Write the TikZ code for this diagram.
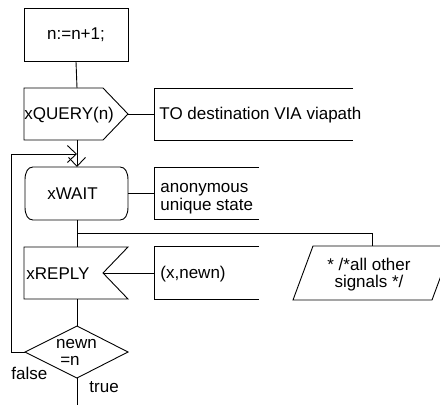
\documentclass[tikz,border=0pt]{standalone}
\usepackage{fontspec}
\setmainfont{Liberation Sans}
\usetikzlibrary{arrows.meta}
\begin{document}
\begin{tikzpicture}[x=1pt,y=-1pt,line width=0.9pt,
  lbl/.style={inner sep=0pt,font=\fontsize{17}{18}\selectfont},
  taskbox/.style={draw,line width=0.9pt,minimum width=104pt,minimum height=53pt,inner sep=0pt,font=\fontsize{17}{18}\selectfont},
  shp/.style={draw=black,line width=0.9pt},
  arr/.style={-{Straight Barb[length=9pt,width=17pt]}}]
\useasboundingbox (0,0) rectangle (440,405);

% task
\node[taskbox] (task) at (76,34.5) {n:=n+1;};

% output signal
\draw[shp] (24,88) -- (103,88) -- (128,114) -- (103,140) -- (24,140) -- cycle;
\coordinate (qtop) at (77,88);
\coordinate (qbot) at (77,140);
\coordinate (qout) at (128,114);
\node[lbl,anchor=base west] (qtxt) at (24,119.5) {xQUERY(n)};

% comment 1
\draw[shp] (353,88) -- (154,88) -- (154,140) -- (353,140);
\coordinate (c1in) at (154,114);
\node[lbl,anchor=base west] (c1txt) at (159,119.5) {TO destination VIA viapath};

% state
\draw[shp] (33,167) -- (120,167) .. controls (125,167) and (128,172) .. (128,180)
  -- (128,207) .. controls (128,215) and (125,220) .. (120,220)
  -- (33,220) .. controls (28,220) and (25,215) .. (25,207)
  -- (25,180) .. controls (25,172) and (28,167) .. (33,167) -- cycle;
\coordinate (wtop) at (77,167);
\coordinate (wbot) at (77,220);
\coordinate (wout) at (128,193.5);
\node[lbl,anchor=base] (wtxt) at (72.5,199.5) {xWAIT};

% comment 2
\draw[shp] (259,167) -- (154,167) -- (154,219) -- (259,219);
\coordinate (c2in) at (154,193.5);
\node[lbl,anchor=base west] (c2a) at (160,192) {anonymous};
\node[lbl,anchor=base west] (c2b) at (160,210) {unique state};

% input signal
\draw[shp] (24,247) -- (128,247) -- (103,273) -- (128,299) -- (24,299) -- cycle;
\coordinate (rtop) at (77,247);
\coordinate (rbot) at (77,299);
\coordinate (rin) at (103,273);
\node[lbl,anchor=base west] (rtxt) at (26,279) {xREPLY};

% comment 3
\draw[shp] (259,246) -- (154,246) -- (154,299) -- (259,299);
\coordinate (c3in) at (154,273);
\node[lbl,anchor=base west] (c3txt) at (160,278) {(x,newn)};

% other signals (input, parallelogram)
\draw[shp] (313,246) -- (452,246) -- (432,300) -- (293,300) -- cycle;
\coordinate (ptop) at (372,246);
\node[lbl,anchor=base] (pa) at (369,270) {* /*all other};
\node[lbl,anchor=base] (pb) at (369,287) {signals */};

% decision
\draw[shp] (77,326) -- (128,352) -- (77,378) -- (25,352) -- cycle;
\coordinate (dtop) at (77,326);
\coordinate (dbot) at (77,378);
\coordinate (dleft) at (25,352);
\node[lbl,anchor=base] (da) at (76.5,348) {newn};
\node[lbl,anchor=base] (db) at (70,365) {=n};
\node[lbl,anchor=base west] (lf) at (11,379) {false};
\node[lbl,anchor=base west] (lt) at (89,392) {true};

% connectors
\coordinate (join) at (77,154);
\coordinate (branch) at (77,233);
\coordinate (exit) at (77,405);
\draw (task.south) -- (qtop);
\draw (qout) -- (c1in);
\draw[arr] (qbot) -- (wtop);
\draw[arr] (dleft) -- (11,352) -- (11,154) -- (join);
\draw (wout) -- (c2in);
\draw (wbot) -- (rtop);
\draw (branch) -- (372,233) -- (ptop);
\draw (rin) -- (c3in);
\draw (rbot) -- (dtop);
\draw (dbot) -- (exit);
\end{tikzpicture}
\end{document}
